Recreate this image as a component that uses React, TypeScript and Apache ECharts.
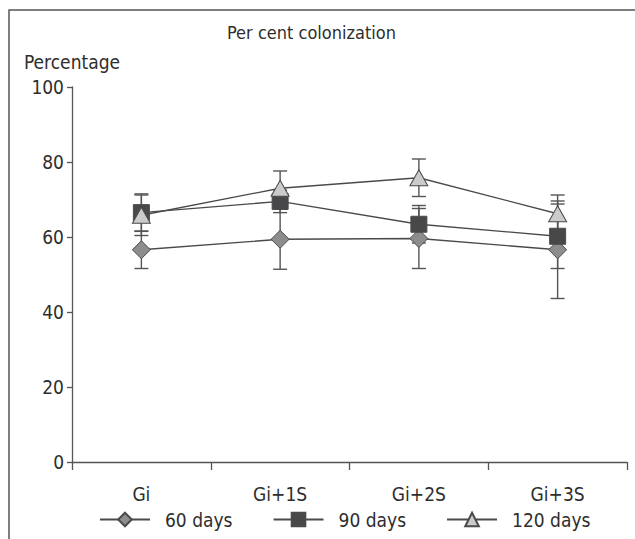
import React, { useEffect, useRef } from "react";
import * as echarts from "echarts";

const categories = ["Gi", "Gi+1S", "Gi+2S", "Gi+3S"];
const seriesNames = ["60 days", "90 days", "120 days"];
const days60 = [56.6, 59.4, 59.6, 56.6];
const days90 = [66.5, 69.5, 63.4, 60.2];
const days120 = [65.8, 73.0, 75.8, 66.2];
const err60 = [5, 8, 8, 13];
const err90 = [5, 3, 5, 8.6];
const err120 = [5.4, 4.6, 5, 5];
const yTicks = [0, 20, 40, 60, 80, 100];

const FONT = "'DejaVu Sans Condensed', 'Liberation Sans Narrow', Roboto, sans-serif";
const INK = "#4a4a4a";
const TXT = "#2e2e2e";

export default function App() {
  const ref = useRef<HTMLDivElement>(null);
  useEffect(() => {
    if (!ref.current) return;
    const chart = echarts.init(ref.current, undefined, { renderer: "svg" });
    const values = [days60, days90, days120];
    const errs = [err60, err90, err120];
    const errData: number[][] = [];
    values.forEach((vals, s) => {
      vals.forEach((v, i) => {
        errData.push([i, v - errs[s][i], v + errs[s][i]]);
      });
    });
    const symbols = ["diamond", "rect", "triangle"];
    const sizes: any[] = [[18, 18], [16, 16], [18, 16]];
    const fills = ["#8d8d8f", "#48484a", "#cbcbcb"];
    chart.setOption({
      animation: false,
      backgroundColor: "#ffffff",
      textStyle: { fontFamily: FONT },
      title: {
        text: "Per cent colonization",
        left: 222,
        top: 18,
        textStyle: { fontFamily: FONT, fontSize: 18, fontWeight: "normal", color: TXT },
      },
      graphic: [
        {
          type: "rect",
          shape: { x: 9, y: 10, width: 700, height: 600 },
          style: { fill: "none", stroke: "#555", lineWidth: 1.5 },
          silent: true,
        },
      ],
      legend: {
        left: 94,
        top: 505,
        itemWidth: 50,
        itemHeight: 17,
        itemGap: 40,
        textStyle: { fontFamily: FONT, fontSize: 19, color: TXT, padding: [0, 0, 0, 10] },
        data: seriesNames,
      },
      grid: { left: 72, right: 8, top: 87, bottom: 77, containLabel: false },
      xAxis: {
        type: "category",
        data: categories,
        boundaryGap: true,
        axisLine: { lineStyle: { color: "#555", width: 1.3 } },
        axisTick: { show: true, length: 8, lineStyle: { color: "#555", width: 1.3 } },
        axisLabel: { fontFamily: FONT, fontSize: 19, color: TXT, margin: 22 },
        splitLine: { show: false },
      },
      yAxis: {
        type: "value",
        min: yTicks[0],
        max: yTicks[yTicks.length - 1],
        interval: 20,
        name: "Percentage",
        nameLocation: "end",
        nameGap: 16,
        nameTextStyle: { fontFamily: FONT, fontSize: 19, color: TXT, align: "center" },
        axisLine: { show: true, lineStyle: { color: "#555", width: 1.3 } },
        axisTick: { show: true, length: 5, lineStyle: { color: "#555", width: 1.3 } },
        axisLabel: { fontFamily: FONT, fontSize: 19, color: TXT, margin: 8 },
        splitLine: { show: false },
      },
      series: [
        {
          type: "custom",
          name: "err",
          z: 1,
          silent: true,
          data: errData,
          renderItem: (params: any, api: any) => {
            const x = api.value(0);
            const lo = api.coord([x, api.value(1)]);
            const hi = api.coord([x, api.value(2)]);
            const hw = 7;
            const style = { stroke: "#555", lineWidth: 1.4 };
            return {
              type: "group",
              children: [
                { type: "line", shape: { x1: lo[0], y1: lo[1], x2: hi[0], y2: hi[1] }, style },
                { type: "line", shape: { x1: lo[0] - hw, y1: lo[1], x2: lo[0] + hw, y2: lo[1] }, style },
                { type: "line", shape: { x1: hi[0] - hw, y1: hi[1], x2: hi[0] + hw, y2: hi[1] }, style },
              ],
            };
          },
        },
        ...values.map((vals, s) => ({
          type: "line",
          name: seriesNames[s],
          data: vals,
          z: 3 + s,
          symbol: symbols[s],
          symbolSize: sizes[s],
          showAllSymbol: true,
          lineStyle: { color: INK, width: 1.3 },
          itemStyle: { color: fills[s], borderColor: INK, borderWidth: 1 },
          emphasis: { disabled: true },
        })),
      ],
    });
    return () => chart.dispose();
  }, []);
  return (
    <div
      ref={ref}
      style={{ position: "fixed", left: 0, top: 0, width: 635, height: 539, background: "#fff" }}
    />
  );
}
